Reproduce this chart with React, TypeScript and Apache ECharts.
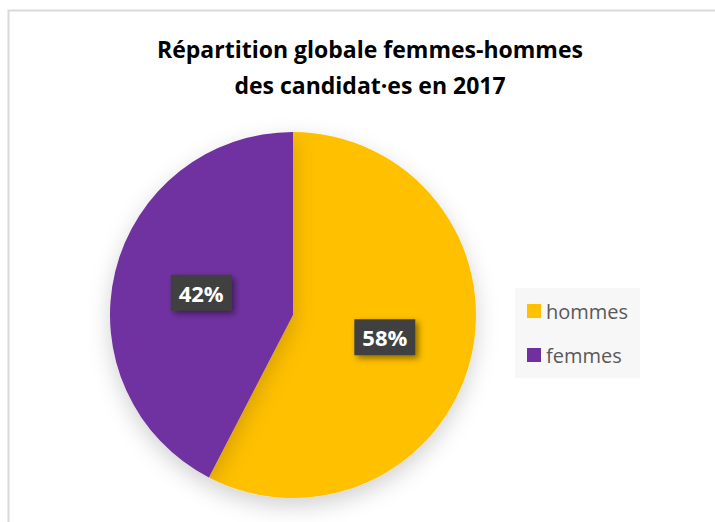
import React, { useEffect, useRef } from "react";
import * as echarts from "echarts";

const titleLines = ["Répartition globale femmes-hommes", "des candidat·es en 2017"];
const categories = ["hommes", "femmes"];
const shares = [57.6, 42.4];
const colors = ["#FFC000", "#7030A0"];

export default function App() {
  const ref = useRef<HTMLDivElement>(null);
  useEffect(() => {
    if (!ref.current) return;
    const chart = echarts.init(ref.current, null, { renderer: "svg" });
    const font = "'Open Sans', 'Noto Sans', sans-serif";
    chart.setOption({
      animation: false,
      backgroundColor: "#ffffff",
      graphic: [
        {
          type: "rect",
          shape: { x: 8.5, y: 10.5, width: 720, height: 520 },
          style: { fill: "none", stroke: "#d9d9d9", lineWidth: 2 },
          silent: true,
          z: 0,
        },
      ],
      title: {
        text: titleLines.join("\n"),
        left: 365,
        textAlign: "center",
        top: 26,
        textStyle: {
          fontFamily: font,
          fontWeight: "bold",
          fontSize: 23,
          lineHeight: 36,
          color: "#000000",
        },
      },
      legend: {
        orient: "vertical",
        left: 515,
        top: 288,
        padding: [13, 12, 13, 12],
        backgroundColor: "#f7f7f7",
        itemWidth: 14,
        itemHeight: 14,
        itemGap: 24,
        icon: "rect",
        data: categories,
        textStyle: { fontFamily: font, fontSize: 20, color: "#595959" },
      },
      series: [
        {
          type: "pie",
          center: [293, 315],
          radius: [0, 183],
          startAngle: 90,
          clockwise: true,
          avoidLabelOverlap: false,
          data: categories.map((name, i) => ({
            name,
            value: shares[i],
            itemStyle: { color: colors[i] },
          })),
          itemStyle: {
            borderWidth: 0,
            shadowBlur: 22,
            shadowOffsetY: 8,
            shadowColor: "rgba(0,0,0,0.18)",
          },
          label: {
            show: true,
            position: "inside",
            formatter: (p: any) => Math.round(p.value) + "%",
            fontFamily: font,
            fontWeight: "bold",
            fontSize: 22,
            color: "#ffffff",
            backgroundColor: "#3f3f3f",
            padding: [8, 8, 6, 8],
            shadowBlur: 6,
            shadowOffsetX: 3,
            shadowOffsetY: 3,
            shadowColor: "rgba(0,0,0,0.45)",
          },
          labelLine: { show: false },
          emphasis: { disabled: true },
        },
      ],
    });
    return () => chart.dispose();
  }, []);
  return (
    <div
      ref={ref}
      style={{ position: "fixed", left: 0, top: 0, width: 715, height: 522 }}
    />
  );
}
